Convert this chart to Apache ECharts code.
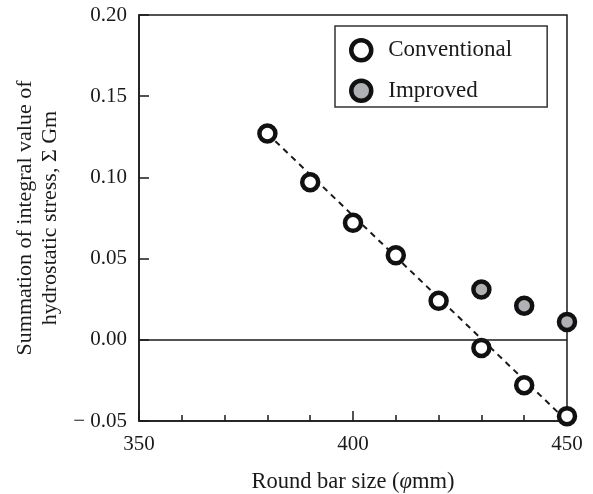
<!DOCTYPE html>
<html>
<head>
<meta charset="utf-8">
<script src="https://cdn.jsdelivr.net/npm/echarts@6/dist/echarts.min.js"></script>
<style>html,body{margin:0;padding:0;background:#fff}#c{width:593px;height:494px}</style>
</head>
<body>
<div id="c"></div>
<script>
const convX = [380, 390, 400, 410, 420, 430, 440, 450];
const convY = [0.127, 0.097, 0.072, 0.052, 0.024, -0.005, -0.028, -0.047];
const impX = [430, 440, 450];
const impY = [0.031, 0.021, 0.011];
const trendX = [380, 450];
const trendY = [0.127, -0.050];
const xTicks = [350, 400, 450];
const yTicks = [-0.05, 0, 0.05, 0.10, 0.15, 0.20];

const FONT = '"Liberation Serif", "DejaVu Serif", serif';
const INK = '#1a1a1a';
const chart = echarts.init(document.getElementById('c'));
const zip = (xs, ys) => xs.map((x, i) => [x, ys[i]]);

chart.setOption({
  animation: false,
  backgroundColor: '#fff',
  textStyle: { fontFamily: FONT, color: INK },
  grid: { left: 139, right: 26, top: 15, bottom: 73, show: true, borderColor: INK, borderWidth: 1.5,
    backgroundColor: 'transparent', containLabel: false, outerBoundsMode: 'none' },
  legend: {
    orient: 'vertical', left: 335, top: 26,
    padding: [12, 35, 4, 14],
    itemWidth: 20, itemHeight: 20, itemGap: 16,
    borderColor: '#333', borderWidth: 1.5,
    itemStyle: { borderWidth: 4.5, borderColor: '#111' },
    textStyle: { fontFamily: FONT, fontSize: 23, color: INK, padding: [0, 0, 0, 12] },
    data: ['Conventional', 'Improved']
  },
  xAxis: {
    type: 'value', min: xTicks[0], max: xTicks[xTicks.length - 1], interval: 50,
    name: '{a|Round bar size (}{b|φ}{a|mm)}', nameLocation: 'middle', nameGap: 50,
    nameTextStyle: { rich: { a: { fontFamily: FONT, fontSize: 22.5, color: INK }, b: { fontFamily: FONT, fontSize: 22.5, fontStyle: 'italic', color: INK } } },
    axisLine: { onZero: false, lineStyle: { color: INK, width: 1.5 } },
    axisTick: { inside: true, length: 10, lineStyle: { color: INK, width: 1.5 } },
    minorTick: { show: true, splitNumber: 5, length: 6, lineStyle: { color: INK, width: 1.5 } },
    axisLabel: { fontFamily: FONT, fontSize: 21, color: INK, margin: 13 },
    splitLine: { show: false }
  },
  yAxis: {
    type: 'value', min: yTicks[0], max: yTicks[yTicks.length - 1], interval: 0.05,
    name: 'Summation of integral value of\nhydrostatic stress, Σ Gm', nameLocation: 'middle', nameGap: 74,
    nameTextStyle: { fontFamily: FONT, fontSize: 22, color: INK, lineHeight: 25 },
    axisLine: { lineStyle: { color: INK, width: 1.5 } },
    axisTick: { inside: true, length: 10, lineStyle: { color: INK, width: 1.5 } },
    axisLabel: { fontFamily: FONT, fontSize: 21, color: INK, margin: 12,
      formatter: v => (v < 0 ? '\u2212 ' + Math.abs(v).toFixed(2) : v.toFixed(2)) },
    splitLine: { show: false }
  },
  series: [
    {
      name: 'trend', type: 'line', data: zip(trendX, trendY), symbol: 'none', silent: true,
      lineStyle: { color: INK, width: 2, type: [6, 5] }, z: 1,
      markLine: {
        silent: true, symbol: 'none', label: { show: false },
        lineStyle: { color: INK, width: 1.5, type: 'solid' },
        data: [{ yAxis: 0 }]
      }
    },
    {
      name: 'Conventional', type: 'scatter', data: zip(convX, convY),
      symbol: 'circle', symbolSize: 16, z: 3,
      itemStyle: { color: '#ffffff', borderColor: '#111', borderWidth: 4.5, opacity: 1 }
    },
    {
      name: 'Improved', type: 'scatter', data: zip(impX, impY),
      symbol: 'circle', symbolSize: 16, z: 3,
      itemStyle: { color: '#b0b1b4', borderColor: '#111', borderWidth: 4.5, opacity: 1 }
    }
  ]
});
</script>
</body>
</html>
